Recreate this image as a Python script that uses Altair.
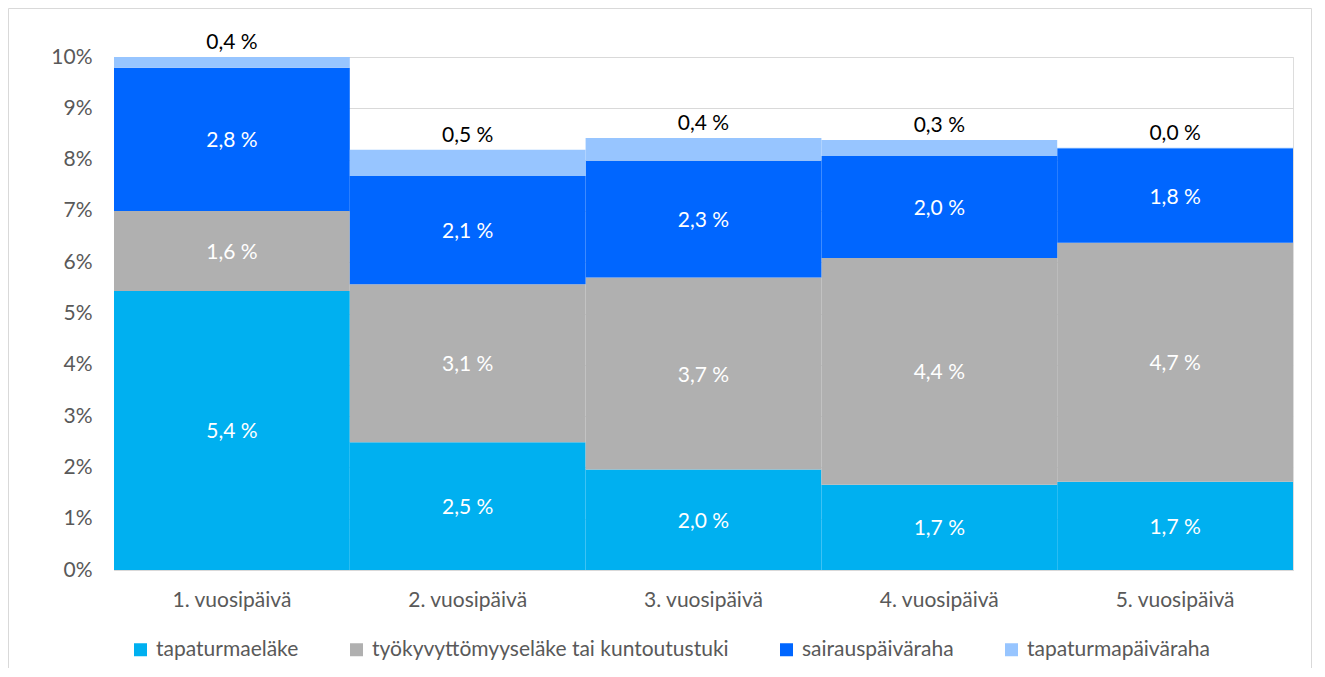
import altair as alt
import pandas as pd

categories = ["1. vuosipäivä", "2. vuosipäivä", "3. vuosipäivä", "4. vuosipäivä", "5. vuosipäivä"]
series = ["tapaturmaeläke", "työkyvyttömyyseläke tai kuntoutustuki", "sairauspäiväraha", "tapaturmapäiväraha"]
tapaturmaelake = [5.44, 2.49, 1.96, 1.66, 1.72]
tyokyvyttomyyselake = [1.56, 3.08, 3.74, 4.42, 4.66]
sairauspaivaraha = [2.79, 2.11, 2.28, 1.99, 1.84]
tapaturmapaivaraha = [0.40, 0.51, 0.44, 0.31, 0.01]
colors = ["#00B0F0", "#B0B0B0", "#0066FF", "#97C5FF"]
y_ticks = list(range(0, 11))

rows = []
for si, (name, vals) in enumerate(zip(series, [tapaturmaelake, tyokyvyttomyyselake, sairauspaivaraha, tapaturmapaivaraha])):
    for c, v in zip(categories, vals):
        rows.append({"cat": c, "series": name, "order": si, "value": v})
df = pd.DataFrame(rows)

FONT = "Lato"
FS = 21
W, H = 1179, 513

base = alt.Chart(df).transform_stack(
    stack="value", as_=["y0", "y1"], groupby=["cat"], sort=[alt.SortField("order")]
).transform_calculate(
    mid="(datum.y0 + datum.y1) / 2",
    top="min(datum.y1, 10)",
    label="replace(format(datum.value, '.1f'), '.', ',') + ' %'",
)

xaxis = alt.Axis(title=None, labelAngle=0, ticks=False, domainColor="#D9D9D9",
                 labelPadding=19, labelFontSize=FS, labelColor="#595959", labelFont=FONT)
yaxis = alt.Axis(values=y_ticks, labelExpr="datum.value + '%'", title=None, ticks=False,
                 domain=False, gridColor="#D9D9D9", labelPadding=22, labelFontSize=FS,
                 labelColor="#595959", labelFont=FONT)
yscale = alt.Scale(domain=[0, 10], nice=False)


def xenc():
    return alt.X("cat:N", sort=categories, scale=alt.Scale(paddingInner=0, paddingOuter=0), axis=xaxis)


bars = base.mark_bar(clip=True).encode(
    x=xenc(),
    y=alt.Y("y0:Q", scale=yscale, axis=yaxis),
    y2="y1:Q",
    color=alt.Color("series:N", sort=series,
                    scale=alt.Scale(domain=series, range=colors),
                    legend=alt.Legend(title=None, orient="none", legendX=16, legendY=582,
                                      direction="horizontal", columns=4, symbolType="square",
                                      symbolSize=169, symbolStrokeWidth=0, labelFontSize=FS,
                                      labelColor="#595959", labelFont=FONT, labelOffset=5,
                                      columnPadding=47, labelLimit=500)),
)

inner = base.transform_filter(alt.datum.series != "tapaturmapäiväraha").mark_text(
    color="white", fontSize=FS, font=FONT, baseline="middle", dy=2
).encode(
    x=xenc(),
    y=alt.Y("mid:Q", scale=yscale, axis=yaxis),
    text="label:N",
)

toplab = base.transform_filter(alt.datum.series == "tapaturmapäiväraha").mark_text(
    color="black", fontSize=FS, font=FONT, baseline="middle", dy=-14
).encode(
    x=xenc(),
    y=alt.Y("top:Q", scale=yscale, axis=yaxis),
    text="label:N",
)

border = alt.Chart(alt.Data(values=[{}])).mark_rect(
    fillOpacity=0, stroke="#D9D9D9", strokeWidth=1
).encode(
    x=alt.value(-105.5), x2=alt.value(W + 18.5), y=alt.value(-48.5), y2=alt.value(H + 120)
)

chart = alt.layer(bars, inner, toplab, border).properties(
    width=W, height=H,
    autosize=alt.AutoSizeParams(type="none"),
    padding={"left": 106, "top": 49, "right": 20, "bottom": 98},
).configure_view(stroke=None).configure(font=FONT)

chart.save("out.html", embed_options={"renderer": "svg", "actions": False})
